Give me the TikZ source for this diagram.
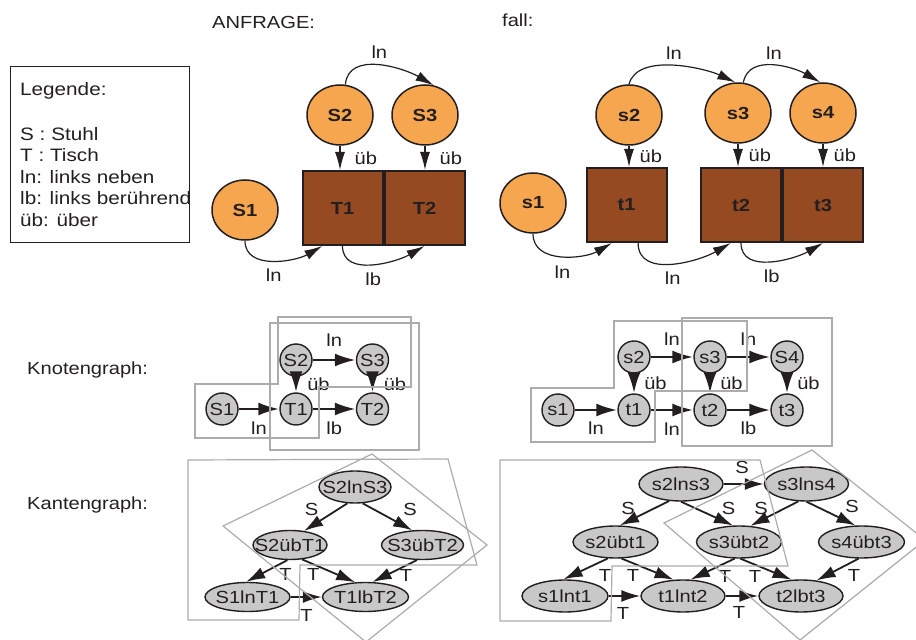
\documentclass[tikz,border=0pt]{standalone}
\usepackage{fontspec}
\setmainfont{Liberation Sans}[FakeStretch=1.15]
\usetikzlibrary{arrows.meta,positioning,shapes.geometric}

\definecolor{stuhlorange}{RGB}{247,166,80}
\definecolor{tischbraun}{RGB}{150,74,34}
\definecolor{knotengrau}{RGB}{200,200,200}
\definecolor{rahmengrau}{RGB}{172,172,172}
\definecolor{tinte}{RGB}{35,31,32}

% Text in den Kanten-Ellipsen soll die Ellipse nicht aufblaehen
\newcommand{\kname}[1]{\makebox[0pt]{#1}}

\begin{document}
\begin{tikzpicture}[x=1pt, y=1pt,
    font=\fontsize{17.5}{21}\selectfont, text=tinte,
    stuhl/.style={ellipse, draw=tinte, line width=1.5pt, fill=stuhlorange,
      minimum width=66pt, minimum height=60pt, inner sep=0pt,
      font=\fontsize{17.5}{21}\selectfont\bfseries},
    tisch/.style={rectangle, draw=tinte, line width=2pt, fill=tischbraun,
      minimum width=80pt, minimum height=74pt, inner sep=0pt,
      font=\fontsize{17.5}{21}\selectfont\bfseries},
    bez/.style={draw=tinte, line width=1.2pt, -{Latex[length=18pt,width=10pt]}},
    lab/.style={inner sep=0pt, text=tinte},
    knoten/.style={circle, draw=tinte, line width=1.4pt, fill=knotengrau,
      minimum size=32pt, inner sep=0pt},
    kpfeil/.style={draw=tinte, line width=2.6pt, -{Latex[length=21pt,width=13pt]}},
    kante/.style={ellipse, draw=tinte, line width=1.4pt, fill=knotengrau, inner sep=0pt},
    epfeil/.style={draw=tinte, line width=1.8pt, -{Latex[length=19pt,width=12pt]}},
    gruppe/.style={draw=rahmengrau, line width=1.2pt},
    titel/.style={anchor=base west, inner sep=0pt, text=tinte}]

\useasboundingbox (0,0) rectangle (916,640);
\clip (0,0) rectangle (916,640);

% Legende
\node[draw=tinte, line width=1.2pt, minimum width=179pt, minimum height=176pt,
  anchor=north west, inner sep=0pt] (legende) at (10,574) {};
\node[anchor=north west, align=left, inner sep=0pt,
  font=\fontsize{18}{21.5}\selectfont] (legtext) at (20,558)
  {Legende:\\[23.5pt]S : Stuhl\\T : Tisch\\ln: links neben\\lb: links berührend\\üb: über};

\node[titel] (anfrage) at (212,611.7) {ANFRAGE:};
\node[titel] (fall) at (502,613.3) {fall:};
\node[titel] (knotengraph) at (27,265) {Knotengraph:};
\node[titel] (kantengraph) at (27,130.7) {Kantengraph:};

% Anfrage: Stuehle und Tische
\node[stuhl] (S1) at (245,430) {S1};
\node[stuhl] (S2) at (340,525) {S2};
\node[stuhl] (S3) at (425,525) {S3};
\node[tisch] (T1) at (342.5,432) {T1};
\node[tisch, right=0pt of T1] (T2) {T2};

\draw[bez] (S2) -- (S2 |- T1.north) node[lab, midway, right=14pt] {üb};
\draw[bez] (S3) -- (S3 |- T2.north) node[lab, midway, right=14pt] {üb};
\draw[bez] (S2.80) to[out=85, in=150] node[lab, above=6pt] {ln} (S3.74);
\draw[bez] (S1.south) to[out=-90, in=210] node[lab, below=8pt] {ln} (T1.242);
\draw[bez] (T1.south) to[out=-90, in=210] node[lab, below=8pt] {lb} (T2.south);

% Fall
\node[stuhl] (s1) at (533,437) {s1};
\node[stuhl] (s2) at (629,525) {s2};
\node[stuhl] (s3) at (738,527) {s3};
\node[stuhl] (s4) at (823,527) {s4};
\node[tisch] (t1) at (626.5,435) {t1};
\node[tisch] (t2) at (741,435) {t2};
\node[tisch, right=0pt of t2] (t3) {t3};

\draw[bez] (s2) -- (s2 |- t1.north) node[lab, midway, right=10pt] {üb};
\draw[bez] (s3) -- (s3 |- t2.north) node[lab, midway, right=10pt] {üb};
\draw[bez] (s4) -- (s4 |- t3.north) node[lab, midway, right=10pt] {üb};
\draw[bez] (s2.north) to[out=75, in=155, looseness=0.8] node[lab, above=6pt] {ln} (s3.95);
\draw[bez] (s3.80) to[out=80, in=150] node[lab, above=6pt] {ln} (s4.95);
\draw[bez] (s1.south) to[out=-90, in=210] node[lab, below=9pt] {ln} (t1.249);
\draw[bez] (t1.287) to[out=-90, in=210] node[lab, below=8pt] {ln} (t2.255);
\draw[bez] (t2.south) to[out=-90, in=210] node[lab, below=8pt] {lb} (t3.south);

% Knotengraph der Anfrage
\node[knoten] (kS1) at (222,231) {S1};
\node[knoten] (kT1) at (296,231) {T1};
\node[knoten] (kT2) at (372.5,231) {T2};
\node[knoten] (kS2) at (296,280) {S2};
\node[knoten] (kS3) at (372.5,280) {S3};
\draw[kpfeil] (kS1) -- node[lab, below=12pt] {ln} (kT1);
\draw[kpfeil] (kT1) -- node[lab, below=12pt] {lb} (kT2);
\draw[kpfeil] (kS2) -- node[lab, above=12pt] {ln} (kS3);
\draw[kpfeil] (kS2) -- node[lab, right=10pt] {üb} (kT1);
\draw[kpfeil] (kS3) -- node[lab, right=10pt] {üb} (kT2);

% Knotengraph des Falls
\node[knoten] (ks1) at (558,230) {s1};
\node[knoten] (kt1) at (634,230) {t1};
\node[knoten] (kt2) at (710,230) {t2};
\node[knoten] (kt3) at (787,230) {t3};
\node[knoten] (ks2) at (634,283) {s2};
\node[knoten] (ks3) at (710,283) {s3};
\node[knoten] (ks4) at (787,283) {S4};
\draw[kpfeil] (ks1) -- node[lab, below=11pt] {ln} (kt1);
\draw[kpfeil] (kt1) -- node[lab, below=12pt] {ln} (kt2);
\draw[kpfeil] (kt2) -- node[lab, below=11pt] {lb} (kt3);
\draw[kpfeil] (ks2) -- node[lab, above=10pt] {ln} (ks3);
\draw[kpfeil] (ks3) -- node[lab, above=10pt] {ln} (ks4);
\draw[kpfeil] (ks2) -- node[lab, right=9pt] {üb} (kt1);
\draw[kpfeil] (ks3) -- node[lab, right=9pt] {üb} (kt2);
\draw[kpfeil] (ks4) -- node[lab, right=9pt] {üb} (kt3);

% Kantengraph der Anfrage
\node[kante, minimum width=72pt, minimum height=32pt] (S2lnS3) at (355,153) {\kname{S2lnS3}};
\node[kante, minimum width=74pt, minimum height=29pt] (S2uebT1) at (290,95) {\kname{S2übT1}};
\node[kante, minimum width=82pt, minimum height=29pt] (S3uebT2) at (422.5,95) {\kname{S3übT2}};
\node[kante, minimum width=85pt, minimum height=29pt] (S1lnT1) at (247.5,43) {\kname{S1lnT1}};
\node[kante, minimum width=86pt, minimum height=29pt] (T1lbT2) at (365.5,43) {\kname{T1lbT2}};
\draw[epfeil] (S2lnS3.245) -- (S2uebT1.45) node[lab] at (311.7,130.7) {S};
\draw[epfeil] (S2lnS3.295) -- (S3uebT2.125) node[lab] at (410,130.7) {S};
\draw[epfeil] (S2uebT1.260) -- (S1lnT1.95) node[lab] at (285.5,65.5) {T};
\draw[epfeil] (S2uebT1.-50) -- (T1lbT2.125) node[lab] at (313.3,65.5) {T};
\draw[epfeil] (S3uebT2.250) -- (T1lbT2.65) node[lab] at (406,65) {T};
\draw[epfeil] (S1lnT1) -- (T1lbT2) node[lab] at (306.5,25) {T};

% Kantengraph des Falls
\node[kante, minimum width=84pt, minimum height=34pt] (s2lns3) at (681,156) {\kname{s2lns3}};
\node[kante, minimum width=84pt, minimum height=34pt] (s3lns4) at (806.5,156) {\kname{s3lns4}};
\node[kante, minimum width=85pt, minimum height=32pt] (s2uebt1) at (615.5,98) {\kname{s2übt1}};
\node[kante, minimum width=85pt, minimum height=32pt] (s3uebt2) at (739,98) {\kname{s3übt2}};
\node[kante, minimum width=86pt, minimum height=32pt] (s4uebt3) at (861.5,98) {\kname{s4übt3}};
\node[kante, minimum width=86pt, minimum height=32pt] (s1lnt1) at (565,44) {\kname{s1lnt1}};
\node[kante, minimum width=84pt, minimum height=32pt] (t1lnt2) at (683,44) {\kname{t1lnt2}};
\node[kante, minimum width=84pt, minimum height=32pt] (t2lbt3) at (801,44) {\kname{t2lbt3}};
\draw[epfeil] (s2lns3) -- (s3lns4) node[lab] at (742,172.5) {S};
\draw[epfeil] (s2lns3.235) -- (s2uebt1.75) node[lab] at (628,132) {S};
\draw[epfeil] (s2lns3.270) -- (s3uebt2.110) node[lab] at (728.5,132) {S};
\draw[epfeil] (s3lns4.245) -- (s3uebt2.55) node[lab] at (761,132) {S};
\draw[epfeil] (s3lns4.270) -- (s4uebt3.110) node[lab] at (852,134) {S};
\draw[epfeil] (s2uebt1.245) -- (s1lnt1.95) node[lab] at (605,65) {T};
\draw[epfeil] (s2uebt1.290) -- (t1lnt2.120) node[lab] at (633,65) {T};
\draw[epfeil] (s3uebt2.255) -- (t1lnt2.65) node[lab] at (725,64) {T};
\draw[epfeil] (s3uebt2.275) -- (t2lbt3.120) node[lab] at (755,64) {T};
\draw[epfeil] (s4uebt3.260) -- (t2lbt3.45) node[lab] at (854,65) {T};
\draw[epfeil] (s1lnt1) -- (t1lnt2) node[lab] at (623,27) {T};
\draw[epfeil] (t1lnt2) -- (t2lbt3) node[lab] at (739,28) {T};

% Gruppierungen
\draw[gruppe] (195,256) -- (278,256) -- (278,323) -- (411,323) -- (411,253)
  -- (319,253) -- (319,202) -- (195,202) -- cycle;
\draw[gruppe] (270,190) rectangle (419,317);
\draw[gruppe] (531,252) -- (614,252) -- (614,319) -- (747,319) -- (747,249)
  -- (655,249) -- (655,198) -- (531,198) -- cycle;
\draw[gruppe] (682,194) rectangle (832,322);
\draw[gruppe] (188,180) -- (448,181) -- (477,75) -- (300,75) -- (299,20)
  -- (188,20) -- cycle;
\draw[gruppe] (372,186) -- (487,95) -- (366,-2) -- (223,114) -- cycle;
\draw[gruppe] (500,180) -- (760,180) -- (788,74) -- (612,74) -- (611,19)
  -- (500,19) -- cycle;
\draw[gruppe] (812,190) -- (925,100) -- (800,0) -- (664,117) -- cycle;
\end{tikzpicture}
\end{document}
